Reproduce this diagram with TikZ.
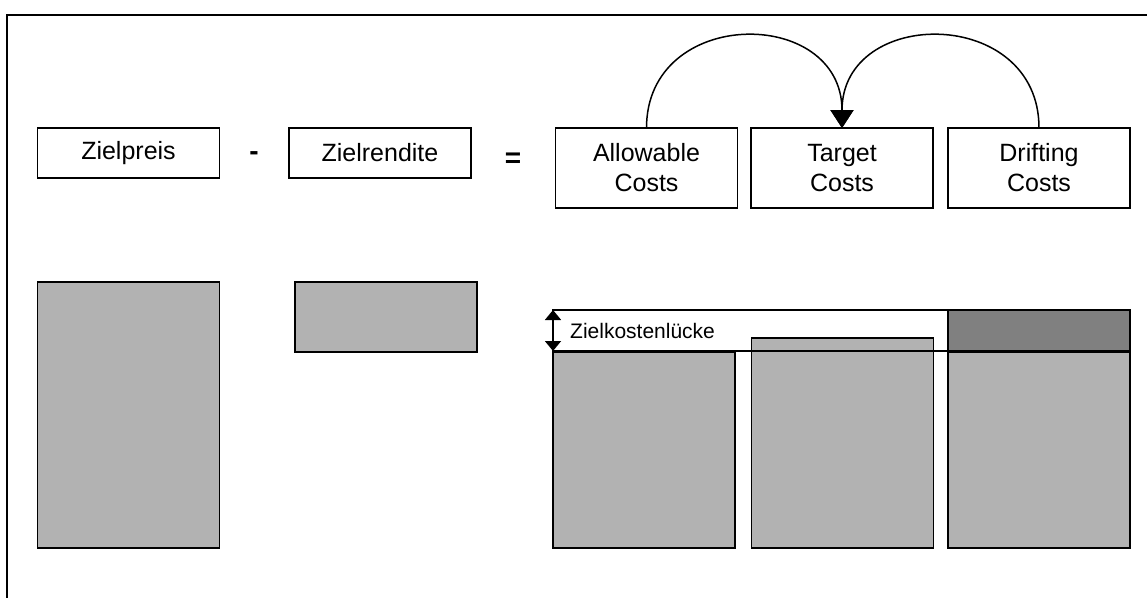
\documentclass[tikz,border=0pt]{standalone}
\usepackage{fontspec}
\setmainfont{Liberation Sans}
\usetikzlibrary{arrows.meta}
\definecolor{lgray}{RGB}{178,178,178}
\definecolor{dgray}{RGB}{128,128,128}
\tikzset{
  labbox/.style={draw, line width=1.8pt, fill=white, inner sep=0pt, outer sep=0pt,
    minimum width=182pt, align=center, font=\fontsize{25}{30}\selectfont},
  graybox/.style={draw, line width=1.8pt, fill=lgray, inner sep=0pt, outer sep=0pt, minimum width=182pt},
  darkbox/.style={graybox, fill=dgray},
  opsign/.style={font=\fontsize{28}{30}\selectfont\bfseries, inner sep=0pt},
  arcline/.style={line width=1.5pt, -{Triangle[length=18pt,width=23pt]}},
  gapline/.style={line width=1.8pt},
}
\begin{document}
\begin{tikzpicture}[x=1pt,y=-1pt]
\useasboundingbox (0,0) rectangle (1147,597);
% frame
\draw[line width=2pt] (7,610) -- (7,15) -- (1160,15);
% top row
\node[labbox, minimum height=50pt] (zp) at (128.5,153) {Zielpreis};
\node[opsign] (minus) at (254,156) {-};
\node[labbox, minimum height=50pt] (zr) at (380,153) {Zielrendite};
\node[opsign] (eq) at (513,160) {=};
\node[labbox, minimum height=80pt] (ac) at (646.5,168) {Allowable\\Costs};
\node[labbox, minimum height=80pt] (tc) at (842,168) {Target\\Costs};
\node[labbox, minimum height=80pt] (dc) at (1039,168) {Drifting\\Costs};
\draw[arcline] (ac.north) .. controls +(0,-122) and +(0,-122) .. (tc.north);
\draw[arcline] (dc.north) .. controls +(0,-122) and +(0,-122) .. (tc.north);
% bottom row
\node[graybox, minimum height=266pt] (g1) at (128.5,415) {};
\node[graybox, minimum height=70pt] (g2) at (386,317) {};
\coordinate (gaptop) at (553,310);
\coordinate (gapbot) at (553,351);
\coordinate (gapright) at (1130,351);
\draw[gapline, fill=white] (gaptop) rectangle (gapright);
\node[graybox, minimum height=196pt] (ga) at (644,450) {};
\node[graybox, minimum height=210pt] (gt) at (842.5,443) {};
\node[darkbox, minimum height=41pt] (gdd) at (1039,331) {};
\node[graybox, minimum height=196pt] (gdl) at (1039,450) {};
\draw[gapline] (gapbot) -- (gapright);
\draw[line width=1.6pt, {Triangle[length=10pt,width=16pt]}-{Triangle[length=10pt,width=16pt]}] (gaptop) -- (gapbot);
\node[anchor=west, inner sep=0pt, font=\fontsize{21}{24}\selectfont] (zkl) at (570,331) {Zielkostenlücke};
\end{tikzpicture}
\end{document}
